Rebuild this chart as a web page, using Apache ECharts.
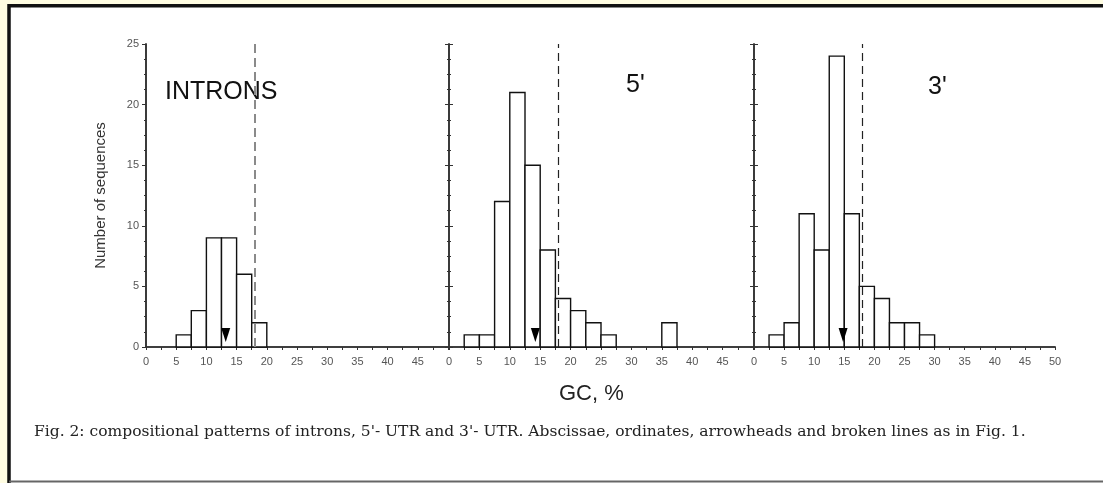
<!DOCTYPE html>
<html>
  <head>
    <meta charset="utf-8" />
    <title>GC histograms</title>
    <script src="https://cdn.jsdelivr.net/npm/echarts@6/dist/echarts.min.js"></script>
  </head>
  <body style="margin:0; background:#fffde2">
    <div id="main" style="width: 1103px;height:483px;"></div>
    <script type="text/javascript">
      // histogram bins (left edge of each 2.5 wide bin) and counts
      var binWidth = 2.5;
      var intronBins = [5, 7.5, 10, 12.5, 15, 17.5];
      var intronCounts = [1, 3, 9, 9, 6, 2];
      var utr5Bins = [2.5, 5, 7.5, 10, 12.5, 15, 17.5, 20, 22.5, 25, 35];
      var utr5Counts = [1, 1, 12, 21, 15, 8, 4, 3, 2, 1, 2];
      var utr3Bins = [2.5, 5, 7.5, 10, 12.5, 15, 17.5, 20, 22.5, 25, 27.5];
      var utr3Counts = [1, 2, 11, 8, 24, 11, 5, 4, 2, 2, 1];
      // arrowheads (mean GC) and broken lines
      var meanGC = [13.2, 14.2, 14.8];
      var cutoffGC = [18, 18, 18];
      var panelNames = ['INTRONS', "5'", "3'"];
      var xTickLabels = ['0', '5', '10', '15', '20', '25', '30', '35', '40', '45', '50'];
      var yTickLabels = ['0', '5', '10', '15', '20', '25'];

      var bins = [intronBins, utr5Bins, utr3Bins];
      var counts = [intronCounts, utr5Counts, utr3Counts];

      var myChart = echarts.init(document.getElementById('main'));

      var grids = [
        { left: 146, top: 44, width: 302, height: 303 },
        { left: 449, top: 44, width: 304, height: 303 },
        { left: 754, top: 44, width: 301, height: 303 }
      ];
      var lineColor = '#333';
      var font = '"Liberation Sans", Arial, sans-serif';

      var xAxes = [], yAxes = [], series = [];

      for (var i = 0; i < 3; i++) {
        var lastPanel = i === 2;
        // bottom axis with labels
        xAxes.push({
          type: 'value', gridIndex: i, min: 0, max: 50, interval: 5, position: 'bottom',
          axisLine: { lineStyle: { color: lineColor, width: 1.6 } },
          axisTick: { show: true, length: 3, lineStyle: { color: lineColor } },
          minorTick: { show: true, splitNumber: 2, length: 2, lineStyle: { color: lineColor } },
          splitLine: { show: false },
          axisLabel: {
            margin: 9, fontSize: 11, color: '#555', fontFamily: font,
            showMaxLabel: lastPanel,
            formatter: function (v) { return xTickLabels[Math.round(v / 5)]; }
          }
        });
        // top frame axis
        xAxes.push({
          type: 'value', gridIndex: i, min: 0, max: 50, interval: 5, position: 'top',
          axisLine: { lineStyle: { color: lineColor, width: 1.6 } },
          axisTick: { show: true, inside: true, length: 3, lineStyle: { color: lineColor } },
          minorTick: { show: true, splitNumber: 2, length: 3, lineStyle: { color: lineColor } },
          splitLine: { show: false },
          axisLabel: { show: false }
        });
        // left axis
        yAxes.push({
          type: 'value', gridIndex: i, min: 0, max: 25, interval: 5, position: 'left',
          name: i === 0 ? 'Number of sequences' : '',
          nameLocation: 'middle', nameRotate: 90, nameGap: 38,
          nameTextStyle: { fontSize: 15, color: '#333', fontFamily: font },
          axisLine: { lineStyle: { color: lineColor, width: 1.6 } },
          axisTick: { show: true, inside: i > 0, length: 4, lineStyle: { color: lineColor } },
          minorTick: { show: true, splitNumber: 4, length: 2, lineStyle: { color: lineColor } },
          splitLine: { show: false },
          axisLabel: {
            show: i === 0, margin: 7, fontSize: 11, color: '#555', fontFamily: font,
            formatter: function (v) { return yTickLabels[Math.round(v / 5)]; }
          }
        });
        // right frame axis
        yAxes.push({
          type: 'value', gridIndex: i, min: 0, max: 25, interval: 5, position: 'right',
          axisLine: { lineStyle: { color: lineColor, width: 1.6 } },
          axisTick: { show: true, inside: true, length: 4, lineStyle: { color: lineColor } },
          minorTick: { show: true, splitNumber: 4, length: 2, lineStyle: { color: lineColor } },
          splitLine: { show: false },
          axisLabel: { show: false }
        });

        var barData = bins[i].map(function (b, k) { return [b, counts[i][k]]; });

        series.push({
          type: 'custom',
          xAxisIndex: i * 2,
          yAxisIndex: i * 2,
          data: barData,
          silent: true,
          renderItem: function (params, api) {
            var p0 = api.coord([api.value(0), api.value(1)]);
            var p1 = api.coord([api.value(0) + binWidth, 0]);
            return {
              type: 'rect',
              shape: { x: p0[0], y: p0[1], width: p1[0] - p0[0], height: p1[1] - p0[1] },
              style: { fill: '#fff', stroke: '#111', lineWidth: 1.4 }
            };
          },
          markLine: {
            silent: true,
            symbol: 'none',
            label: { show: false },
            lineStyle: {
              type: i === 0 ? [9, 5] : [8, 5],
              color: i === 0 ? '#8a8a8a' : '#222',
              width: i === 0 ? 2 : 1.2
            },
            data: [{ xAxis: cutoffGC[i] }]
          },
          z: 2
        });

        series.push({
          type: 'scatter',
          xAxisIndex: i * 2,
          yAxisIndex: i * 2,
          symbol: 'path://M0,0L10,0L5,16Z',
          symbolSize: [9, 14],
          itemStyle: { color: '#000', opacity: 1 },
          silent: true,
          data: [[meanGC[i], 1.0]],
          z: 5
        });
      }

      var option = {
        backgroundColor: '#fffde2',
        animation: false,
        grid: grids,
        xAxis: xAxes,
        yAxis: yAxes,
        series: series,
        graphic: [
          {
            type: 'rect', z: -10,
            shape: { x: 9, y: 5.8, width: 1100, height: 480 },
            style: { fill: '#fff', stroke: '#111', lineWidth: 3.5 }
          },
          {
            type: 'line', z: -9,
            shape: { x1: 9, y1: 481.5, x2: 1103, y2: 481.5 },
            style: { stroke: '#666', lineWidth: 2 }
          },
          {
            type: 'text', left: 165, top: 80,
            style: { text: panelNames[0], font: '25px "Liberation Sans", Arial', fill: '#111' }
          },
          {
            type: 'text', left: 626, top: 73,
            style: { text: panelNames[1], font: '25px "Liberation Sans", Arial', fill: '#111' }
          },
          {
            type: 'text', left: 928, top: 75,
            style: { text: panelNames[2], font: '25px "Liberation Sans", Arial', fill: '#111' }
          },
          {
            type: 'text', left: 559, top: 383,
            style: { text: 'GC, %', font: '22px "Liberation Sans", Arial', fill: '#222' }
          },
          {
            type: 'text', left: 34, top: 424,
            style: {
              text: "Fig. 2: compositional patterns of introns, 5'- UTR and 3'- UTR. Abscissae, ordinates, arrowheads and broken lines as in Fig. 1.",
              font: '15.5px "DejaVu Serif", serif', fill: '#222'
            }
          }
        ]
      };

      myChart.setOption(option);
    </script>
  </body>
</html>
